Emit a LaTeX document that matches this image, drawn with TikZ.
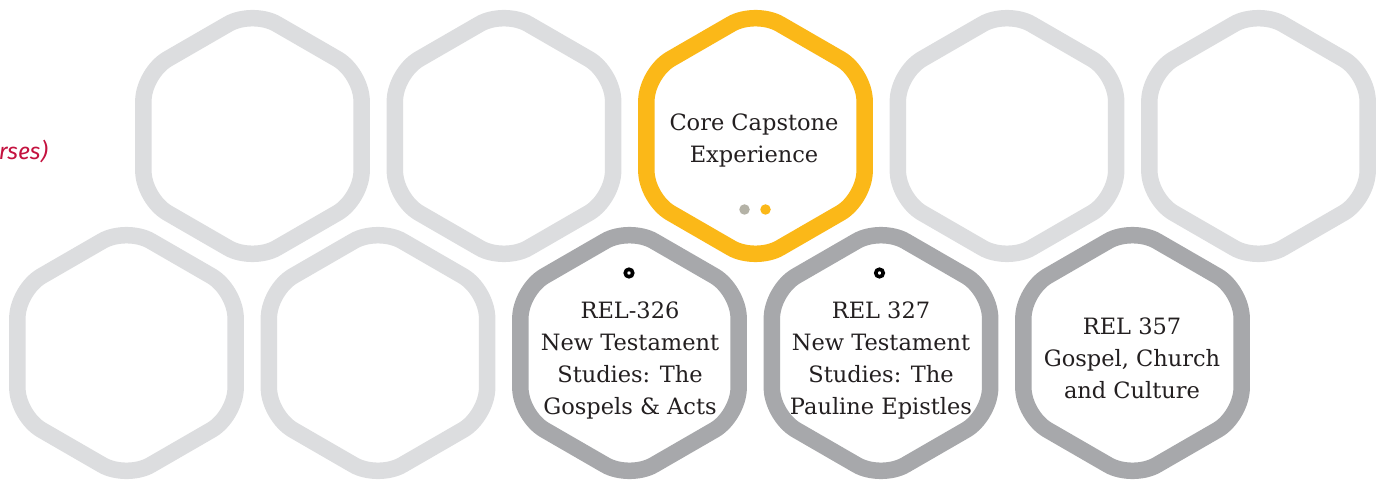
\documentclass[tikz,border=0pt]{standalone}
\usepackage{fontspec}
\setmainfont{DejaVu Serif}
\newfontfamily\notefont{Fira Sans}
\usepackage{tikz}
\usetikzlibrary{shapes.geometric}
\usetikzlibrary{positioning}
\definecolor{hexlight}{HTML}{DCDDDF}
\definecolor{hexdark}{HTML}{A7A8AB}
\definecolor{hexgold}{HTML}{FBB818}
\definecolor{dotgray}{HTML}{B4B2A6}
\definecolor{notered}{HTML}{C4123F}
\definecolor{labelink}{HTML}{231F20}
\tikzstyle{hexcell}=[regular polygon, regular polygon sides=6, shape border rotate=30,
    minimum size=252pt, inner sep=0pt, line width=16.5pt, rounded corners=28pt, fill=white]
\tikzstyle{hex_open}=[hexcell, draw=hexlight]
\tikzstyle{hex_taken}=[hexcell, draw=hexdark]
\tikzstyle{hex_core}=[hexcell, draw=hexgold]
\tikzstyle{course}=[align=center, text=labelink, inner sep=0pt,
    font=\fontsize{22.5}{32}\selectfont]
\tikzstyle{ring}=[circle, draw=black, line width=3.6pt, minimum size=7.5pt, inner sep=0pt]

\begin{document}
\begin{tikzpicture}[x=1pt, y=-1pt]
          \useasboundingbox (0,0) rectangle (1381,481);
          \node[hex_open] (hex0) at (252.5,136){};
          \node[hex_open] (hex1) at (504,136){};
          \node[hex_core] (hex2) at (755.5,136){};
          \node[hex_open] (hex3) at (1007,136){};
          \node[hex_open] (hex4) at (1258.5,136){};
          \node[hex_open] (hex5) at (126.5,353){};
          \node[hex_open] (hex6) at (378,353){};
          \node[hex_taken] (hex7) at (629.5,353){};
          \node[hex_taken] (hex8) at (881,353){};
          \node[hex_taken] (hex9) at (1132.5,353){};
          \node[course] (capstone) at (754,140){Core Capstone\\Experience};
          \node[circle, fill=dotgray, minimum size=10.5pt, inner sep=0pt] (dot0) at (744.5,209.5){};
          \node[circle, fill=hexgold, minimum size=10.5pt, inner sep=0pt] (dot1) at (765.5,209.5){};
          \node[ring] (ring7) at (629,273){};
          \node[course] (rel326) at (630,360){REL-326\\New Testament\\Studies: The\\Gospels \& Acts};
          \node[ring] (ring8) at (879.5,273){};
          \node[course] (rel327) at (881,360){REL 327\\New Testament\\Studies: The\\Pauline Epistles};
          \node[course] (rel357) at (1132,358){REL 357\\Gospel, Church\\and Culture};
          \node[anchor=base east, text=notered, inner sep=0pt,
                font=\notefont\itshape\fontsize{23}{26}\selectfont] (note) at (48,160){rses)};
        \end{tikzpicture}
\end{document}
